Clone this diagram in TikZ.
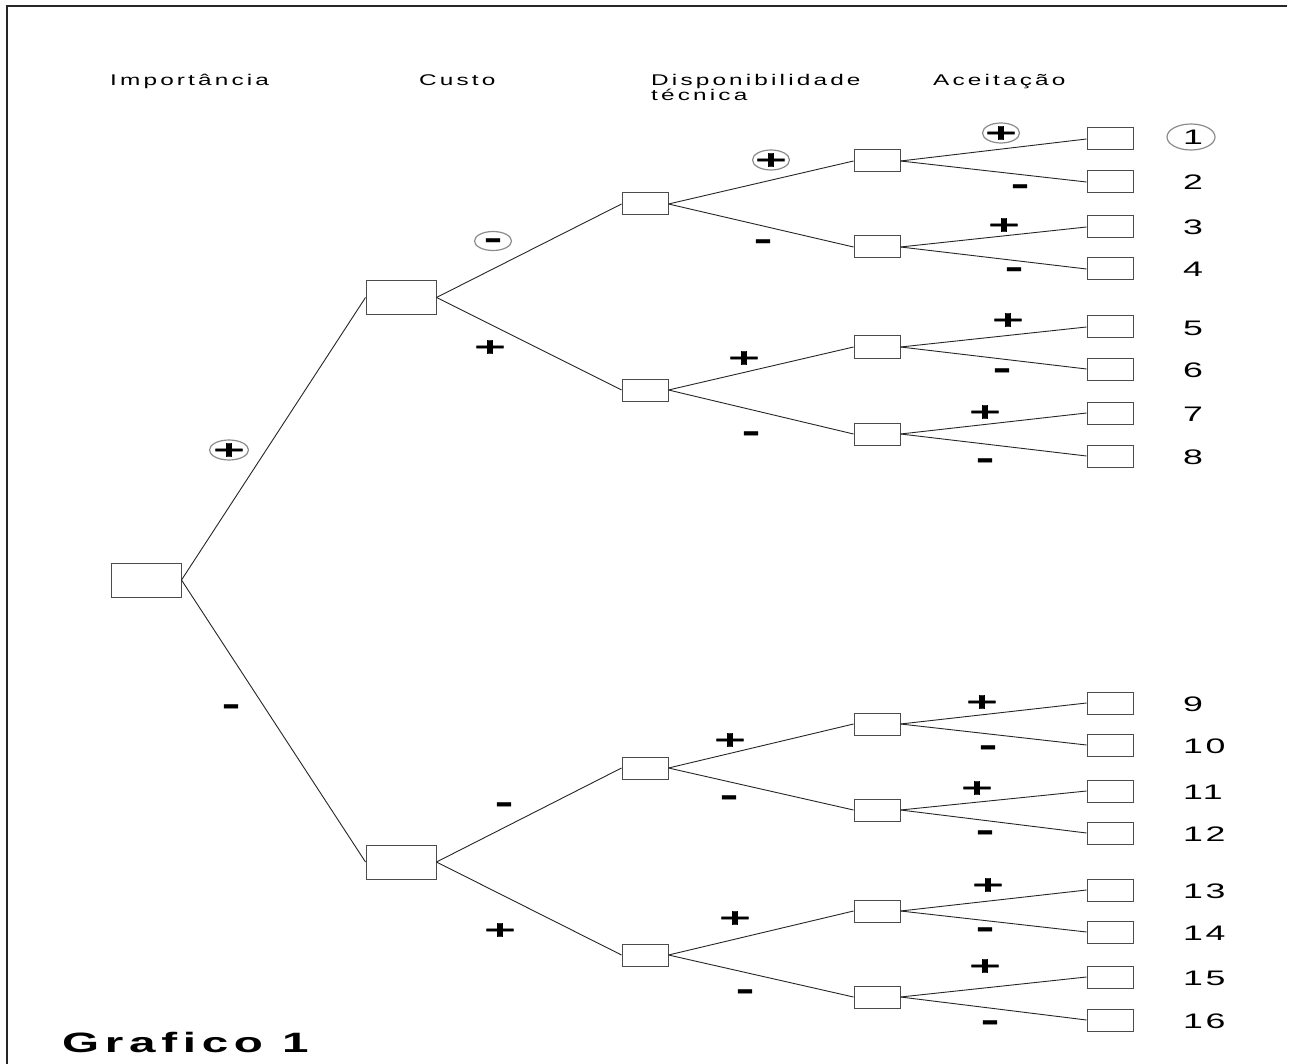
\documentclass[tikz,border=0pt]{standalone}
\usepackage{fontspec}
\setmainfont{Liberation Sans}
\newfontfamily\lab[LetterSpace=13]{Liberation Sans}
\newfontfamily\numf[LetterSpace=7]{Liberation Sans}
\newfontfamily\ttl[LetterSpace=12]{Liberation Sans}
\newfontfamily\sgn[FakeBold=1.4]{DejaVu Sans Bold}
\newcommand\hs[1]{\scalebox{1.57}[1]{#1}}
\newcommand\ns[1]{\scalebox{1.7}[1]{#1}}
\newcommand\PLs{\scalebox{2.5}[1.25]{+}}
\newcommand\MIs{\scalebox{2.6}[1.45]{-}}
\tikzset{
  bigbox/.style={draw=black!70, line width=1pt, minimum width=70pt, minimum height=34pt, inner sep=0pt, fill=white},
  midbox/.style={draw=black!70, line width=1pt, minimum width=46pt, minimum height=22pt, inner sep=0pt, fill=white},
  edge/.style={draw=black!85, line width=0.9pt},
  head/.style={font=\lab\fontsize{15.5}{15}\selectfont, anchor=base west, inner sep=0pt},
  num/.style={font=\numf\fontsize{21}{21}\selectfont, anchor=base west, inner sep=0pt},
  pl/.style={font=\sgn\fontsize{17}{17}\selectfont, inner sep=0pt},
  mi/.style={font=\sgn\fontsize{17}{17}\selectfont, inner sep=0pt, yshift=-2pt},
  ring/.style={draw=black!45, line width=1.2pt},
}
\begin{document}
\begin{tikzpicture}[x=1pt,y=-1pt]
\useasboundingbox (0,0) rectangle (1295,1064);
\fill[white] (0,0) rectangle (1295,1064);
\draw[line width=1.6pt, black!85] (7,1064) -- (7,6) -- (1287,6);

% headers
\node[head] (h1) at (110,86) {\hs{Importância}};
\node[head] (h2) at (419,86) {\hs{Custo}};
\node[head] (h3) at (651,86) {\hs{Disponibilidade}};
\node[head] (h3b) at (651,101) {\hs{técnica}};
\node[head] (h4) at (933,86) {\hs{Aceitação}};

% boxes
\node[bigbox] (r) at (146,580) {};
\node[bigbox] (a1) at (401,297.5) {};
\node[bigbox] (a2) at (401,862) {};
\node[midbox] (b1) at (645,204) {};
\node[midbox] (b2) at (645,390) {};
\node[midbox] (b3) at (645,768) {};
\node[midbox] (b4) at (645,955) {};
\foreach \i/\y in {1/161,2/247,3/347,4/434,5/724,6/810,7/911,8/997}
  \node[midbox] (c\i) at (877,\y) {};
\foreach \i/\y in {1/139,2/182,3/227,4/269,5/327,6/369,7/413,8/456,9/703,10/745,11/791,12/833,13/890,14/932,15/977,16/1020}
  \node[midbox] (d\i) at (1110,\y) {};

% edges
\draw[edge] (r.east) -- (a1.west);
\draw[edge] (r.east) -- (a2.west);
\draw[edge] (a1.east) -- (b1.west);
\draw[edge] (a1.east) -- (b2.west);
\draw[edge] (a2.east) -- (b3.west);
\draw[edge] (a2.east) -- (b4.west);
\foreach \i [evaluate=\i as \u using int(2*\i-1), evaluate=\i as \l using int(2*\i)] in {1,...,4} {
  \draw[edge] (b\i.east) -- (c\u.west);
  \draw[edge] (b\i.east) -- (c\l.west);
}
\foreach \i [evaluate=\i as \u using int(2*\i-1), evaluate=\i as \l using int(2*\i)] in {1,...,8} {
  \draw[edge] (c\i.east) -- (d\u.west);
  \draw[edge] (c\i.east) -- (d\l.west);
}

% signs
\node[pl] (s0p) at (229,450) {\PLs};
\node[mi] (s0m) at (231,707) {\MIs};
\node[mi] (s1m) at (493,241) {\MIs};
\node[pl] (s1p) at (490,347) {\PLs};
\node[mi] (s2m) at (504,805) {\MIs};
\node[pl] (s2p) at (500,930) {\PLs};
\node[pl] (t1p) at (771,160) {\PLs};
\node[mi] (t1m) at (763,242) {\MIs};
\node[pl] (t2p) at (744,358) {\PLs};
\node[mi] (t2m) at (751,434) {\MIs};
\node[pl] (t3p) at (730,740) {\PLs};
\node[mi] (t3m) at (729,798) {\MIs};
\node[pl] (t4p) at (735,918) {\PLs};
\node[mi] (t4m) at (745,992) {\MIs};
\node[pl] (u1p) at (1001,133) {\PLs};
\node[mi] (u1m) at (1020,187) {\MIs};
\node[pl] (u2p) at (1004,225) {\PLs};
\node[mi] (u2m) at (1014,270) {\MIs};
\node[pl] (u3p) at (1008,320) {\PLs};
\node[mi] (u3m) at (1002,371) {\MIs};
\node[pl] (u4p) at (985,412) {\PLs};
\node[mi] (u4m) at (985,461) {\MIs};
\node[pl] (u5p) at (982,702) {\PLs};
\node[mi] (u5m) at (988,748) {\MIs};
\node[pl] (u6p) at (977,788) {\PLs};
\node[mi] (u6m) at (985,833) {\MIs};
\node[pl] (u7p) at (988,885) {\PLs};
\node[mi] (u7m) at (985,930) {\MIs};
\node[pl] (u8p) at (985,966) {\PLs};
\node[mi] (u8m) at (990,1023) {\MIs};

% rings round marked signs
\draw[ring] (229,450) ellipse [x radius=19.5, y radius=10];
\draw[ring] (493,241) ellipse [x radius=18.5, y radius=9.5];
\draw[ring] (771,160) ellipse [x radius=18.5, y radius=10];
\draw[ring] (1001,133) ellipse [x radius=18.5, y radius=10];

% numbers
\node[num] (n1) at (1183,145) {\ns{1}};
\draw[ring] (1191,137) ellipse [x radius=24, y radius=13];
\foreach \i/\y in {2/190,3/235,4/277,5/335,6/377,7/421,8/464,9/711,10/753,11/799,12/841,13/898,14/940,15/985,16/1028}
  \node[num] (n\i) at (1183,\y) {\ns{\i}};

\node[font=\ttl\bfseries\fontsize{28}{28}\selectfont, anchor=base west, inner sep=0pt] (title) at (62,1052) {\scalebox{1.7}[1]{Grafico 1}};
\end{tikzpicture}
\end{document}
